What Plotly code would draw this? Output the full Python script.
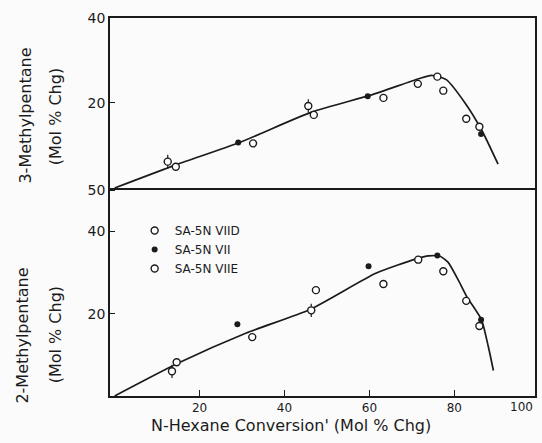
import plotly.graph_objects as go

# ---------------- data ----------------
# Top panel: 3-Methylpentane (Mol % Chg) vs N-Hexane conversion
mp3_viid_x = [14.4, 32.6, 46.9, 63.3, 71.4, 76.0, 77.4, 82.8, 85.9]
mp3_viid_y = [5.0, 10.5, 17.2, 21.2, 24.5, 26.2, 22.9, 16.3, 14.4]
mp3_vii_x = [29.1, 59.6, 86.3]
mp3_vii_y = [10.7, 21.6, 12.7]
mp3_viie_x = [12.5, 45.6]
mp3_viie_y = [6.2, 19.3]
mp3_fit_x = [0, 14.6, 29.4, 46.5, 60.5, 71.6, 74.6, 78.1, 82.6, 86.4, 90.3]
mp3_fit_y = [0, 5.5, 10.7, 17.9, 21.9, 25.7, 26.5, 25.5, 19.9, 13.7, 5.6]

# Bottom panel: 2-Methylpentane (Mol % Chg)
mp2_viid_x = [14.6, 32.4, 47.4, 63.3, 71.5, 77.4, 82.8, 85.9]
mp2_viid_y = [8.2, 14.3, 25.7, 27.2, 33.1, 30.3, 23.1, 17.0]
mp2_vii_x = [28.9, 59.8, 76.0, 86.3]
mp2_vii_y = [17.4, 31.5, 34.1, 18.5]
mp2_viie_x = [13.5, 46.3]
mp2_viie_y = [6.0, 20.8]
mp2_fit_x = [0, 15, 31, 46, 61.5, 71, 74, 76.5, 78.5, 81, 83, 86.4, 88, 89.2]
mp2_fit_y = [0, 8, 15.3, 21, 29.8, 33.3, 34, 34, 32.5, 28, 24, 18.5, 12, 6.2]

series_names = ["SA-5N VIID", "SA-5N VII", "SA-5N VIIE"]
x_tick_vals = [20, 40, 60, 80]
x_tick_text = ["20", "40", "60", "80"]
x_last_label = "100"
top_tick_vals = [20, 40]
bot_tick_vals = [20, 40, 50]

INK = "#1b1b1b"
FONT = "DejaVu Sans"

fig = go.Figure()

def add_panel(xa, ya, fit_x, fit_y, d_x, d_y, f_x, f_y, e_x, e_y, show):
    fig.add_trace(go.Scatter(x=fit_x, y=fit_y, mode="lines", xaxis=xa, yaxis=ya,
                             line=dict(color=INK, width=1.7, shape="spline", smoothing=0.6),
                             showlegend=False, hoverinfo="skip"))
    fig.add_trace(go.Scatter(x=d_x, y=d_y, mode="markers", xaxis=xa, yaxis=ya,
                             name=series_names[0], legendgroup="a", showlegend=show,
                             marker=dict(symbol="circle", size=7, color="white",
                                         line=dict(color=INK, width=1.4))))
    fig.add_trace(go.Scatter(x=f_x, y=f_y, mode="markers", xaxis=xa, yaxis=ya,
                             name=series_names[1], legendgroup="b", showlegend=show,
                             marker=dict(symbol="circle", size=6, color=INK,
                                         line=dict(color=INK, width=0))))
    fig.add_trace(go.Scatter(x=e_x, y=e_y, mode="markers", xaxis=xa, yaxis=ya,
                             name=series_names[2], legendgroup="c", showlegend=show,
                             error_y=dict(type="constant", value=1.6, width=0,
                                          color=INK, thickness=1.2),
                             marker=dict(symbol="circle", size=7, color="white",
                                         line=dict(color=INK, width=1.4))))

add_panel("x", "y", mp2_fit_x, mp2_fit_y, mp2_viid_x, mp2_viid_y,
          mp2_vii_x, mp2_vii_y, mp2_viie_x, mp2_viie_y, True)
add_panel("x2", "y2", mp3_fit_x, mp3_fit_y, mp3_viid_x, mp3_viid_y,
          mp3_vii_x, mp3_vii_y, mp3_viie_x, mp3_viie_y, False)

split = 0.5503
axis_common = dict(showline=True, linecolor=INK, linewidth=1.6,
                   showgrid=False, zeroline=False,
                   tickcolor=INK, tickwidth=1.4)

fig.update_layout(
    width=542, height=443,
    margin=dict(l=110, r=5, t=18, b=47),
    paper_bgcolor="#fcfbfb", plot_bgcolor="#fcfbfb",
    font=dict(family=FONT, color=INK),
    xaxis=dict(domain=[0, 1], range=[-1.1, 99], anchor="y", mirror=False,
               ticks="inside", tickvals=x_tick_vals, ticktext=x_tick_text, ticklen=6,
               tickfont=dict(size=12, family=FONT, color=INK), **axis_common),
    xaxis2=dict(domain=[0, 1], range=[-1.1, 99], anchor="y2", matches="x", mirror=True,
                showticklabels=False, ticks="", **axis_common),
    yaxis=dict(domain=[0, split], range=[0, 50.5], anchor="x", mirror=True,
               ticks="inside", tickvals=bot_tick_vals, ticklen=5,
               tickfont=dict(size=14, family=FONT, color=INK), **axis_common),
    yaxis2=dict(domain=[split, 1], range=[0, 40], anchor="x2", mirror=True,
                ticks="inside", tickvals=top_tick_vals, ticklen=5,
                tickfont=dict(size=14, family=FONT, color=INK), **axis_common),
    legend=dict(x=0.058, y=0.476, xanchor="left", yanchor="top",
                bgcolor="rgba(0,0,0,0)", font=dict(size=12, family=FONT, color=INK),
                itemsizing="trace", traceorder="normal"),
    showlegend=True,
)

ann_font = dict(family=FONT, color=INK)
fig.add_annotation(text=x_last_label, xref="paper", yref="paper", x=1.0, y=-0.029,
                   xanchor="right", yanchor="middle", showarrow=False,
                   font=dict(size=12, **ann_font))
fig.add_annotation(text="N-Hexane Conversion' (Mol % Chg)", xref="paper", yref="paper",
                   x=0.427, y=-0.079, xanchor="center", yanchor="middle", showarrow=False,
                   font=dict(size=16, **ann_font))
fig.add_annotation(text="3-Methylpentane", xref="paper", yref="paper",
                   x=-0.199, y=0.743, textangle=-90, xanchor="center", yanchor="middle",
                   showarrow=False, font=dict(size=16, **ann_font))
fig.add_annotation(text="(Mol % Chg)", xref="paper", yref="paper",
                   x=-0.129, y=0.738, textangle=-90, xanchor="center", yanchor="middle",
                   showarrow=False, font=dict(size=16, **ann_font))
fig.add_annotation(text="2-Methylpentane", xref="paper", yref="paper",
                   x=-0.206, y=0.161, textangle=-90, xanchor="center", yanchor="middle",
                   showarrow=False, font=dict(size=16, **ann_font))
fig.add_annotation(text="(Mol % Chg)", xref="paper", yref="paper",
                   x=-0.129, y=0.161, textangle=-90, xanchor="center", yanchor="middle",
                   showarrow=False, font=dict(size=16, **ann_font))

fig.write_html("out.html")
